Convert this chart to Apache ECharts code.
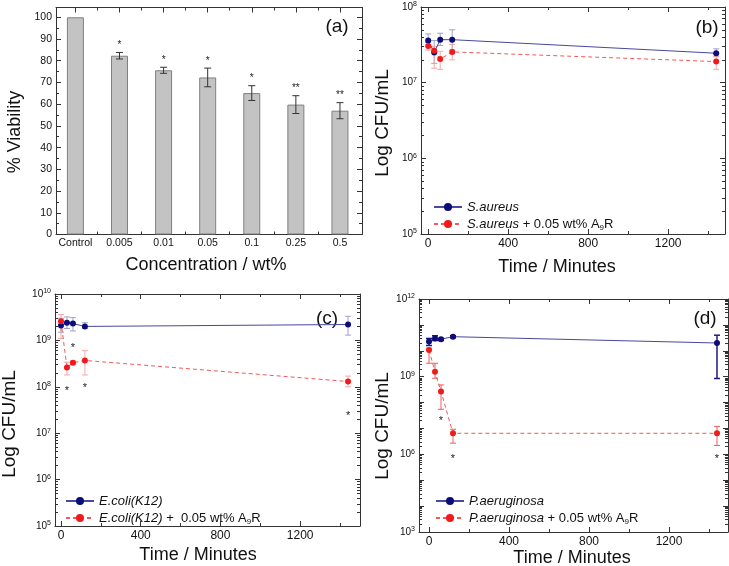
<!DOCTYPE html>
<html>
<head>
<meta charset="utf-8">
<script src="https://cdn.jsdelivr.net/npm/echarts@6/dist/echarts.min.js"></script>
<style>
  html, body { margin: 0; padding: 0; background: #fff; }
  #chart { width: 729px; height: 566px; }
</style>
</head>
<body>
<div id="chart"></div>
<script>
// (a) cell viability
const concLabels = ['Control', '0.005', '0.01', '0.05', '0.1', '0.25', '0.5'];
const viability = [100, 82.3, 75.6, 72.3, 65.1, 59.8, 57.0];
const viabilityErr = [0, 1.5, 1.4, 4.3, 3.4, 4.1, 3.7];
const viabilityStars = ['', '*', '*', '*', '*', '**', '**'];

// time points (minutes)
const times = [0, 30, 60, 120, 1440];

// (b) S. aureus
const saureus = [3.6e7, 2.5e7, 3.7e7, 3.7e7, 2.45e7];
const saureusLo = [3.0e7, 1.8e7, 3.1e7, 2.7e7, 2.2e7];
const saureusHi = [4.4e7, 3.6e7, 4.5e7, 5.0e7, 2.8e7];
const saureusA9R = [3.05e7, 2.65e7, 2.05e7, 2.55e7, 1.9e7];
const saureusA9RLo = [2.7e7, 1.55e7, 1.5e7, 2.0e7, 1.5e7];
const saureusA9RHi = [3.4e7, 3.0e7, 2.6e7, 3.2e7, 2.25e7];

// (c) E. coli (K12)
const ecoli = [2.1e9, 2.4e9, 2.3e9, 2.0e9, 2.2e9];
const ecoliLo = [1.5e9, 1.8e9, 1.6e9, 1.8e9, 1.3e9];
const ecoliHi = [3.0e9, 3.2e9, 3.1e9, 2.4e9, 3.3e9];
const ecoliA9R = [2.6e9, 2.6e8, 3.3e8, 3.7e8, 1.3e8];
const ecoliA9RLo = [1.1e9, 1.8e8, 3.0e8, 1.8e8, 1.0e8];
const ecoliA9RHi = [3.6e9, 3.4e8, 3.6e8, 6.0e8, 1.7e8];
const ecoliStars = [[30, 8e7], [60, 7e8], [120, 9.5e7], [1440, 2.4e7]];

// (d) P. aeruginosa
const paer = [2.3e10, 3.0e10, 2.8e10, 3.5e10, 2.0e10];
const paerLo = [1.6e10, 2.5e10, 2.5e10, 3.2e10, 8.5e8];
const paerHi = [3.0e10, 3.8e10, 3.0e10, 3.8e10, 4.0e10];
const paerA9R = [1.07e10, 1.55e9, 2.7e8, 6.5e6, 6.5e6];
const paerA9RLo = [3.3e9, 8.7e8, 5.5e7, 2.7e6, 2.2e6];
const paerA9RHi = [1.26e10, 3.3e9, 4.8e8, 9.3e6, 1.2e7];
const paerStars = [[60, 2e7], [120, 6.5e5], [1440, 6.5e5]];

const FONT = "'Liberation Sans', Arial, sans-serif";
const AX = '#333';
const TXT = '#111';
const BLUE = '#0c0c78', BLUE_LINE = '#4848a0';
const RED = '#f01a1a', RED_LINE = '#f05a5a';

const chart = echarts.init(document.getElementById('chart'));

const xAxis = [];
const yAxis = [];

// each side gets a major-tick axis and a minor-tick axis, mirrored on the opposite side
function addAxes(list, dim, grid, type, min, max, labels, majors, minors, label) {
  const first = list.length;
  const sides = dim === 'x' ? ['bottom', 'top'] : ['left', 'right'];
  sides.forEach((pos, si) => {
    [majors, minors].forEach((vals, mi) => {
      list.push({
        gridIndex: grid,
        type: type,
        logBase: 10,
        min: min,
        max: max,
        position: pos,
        splitLine: { show: false },
        axisLine: { show: mi === 0, onZero: false, lineStyle: { color: AX, width: 1 } },
        axisTick: {
          show: true, inside: true, length: mi === 0 ? 5 : 3,
          customValues: vals, lineStyle: { color: AX, width: 1 }
        },
        axisLabel: si === 0 && mi === 0
          ? Object.assign({ customValues: labels, color: TXT, fontFamily: FONT }, label)
          : { show: false }
      });
    });
  });
  return first;
}

function decades(lo, hi) {
  const out = [];
  for (let d = lo; d <= hi; d++) out.push(Math.pow(10, d));
  return out;
}
function logMinors(lo, hi) {
  const out = [];
  for (let d = lo; d < hi; d++) {
    for (let k = 2; k <= 9; k++) out.push(k * Math.pow(10, d));
  }
  return out;
}

const supLabel = {
  fontSize: 10, margin: 4, lineHeight: 12,
  formatter: v => '10{sup|' + Math.round(Math.log10(v)) + '}',
  rich: { sup: { fontSize: 7, lineHeight: 7, verticalAlign: 'top', fontFamily: FONT, color: TXT } }
};
const timeLabel = { fontSize: 12, margin: 4, formatter: v => String(Math.round(v)) };
const timeMajors = [0, 400, 800, 1200];
const timeMinors = [200, 600, 1000, 1400];

// (a)
const ax0 = addAxes(xAxis, 'x', 0, 'value', -0.44, 6.5, [0, 1, 2, 3, 4, 5, 6],
  [0, 1, 2, 3, 4, 5, 6], [0.5, 1.5, 2.5, 3.5, 4.5, 5.5],
  { fontSize: 10.5, margin: 3, formatter: v => concLabels[Math.round(v)] });
const ay0 = addAxes(yAxis, 'y', 0, 'value', 0, 104.5,
  [0, 10, 20, 30, 40, 50, 60, 70, 80, 90, 100],
  [0, 10, 20, 30, 40, 50, 60, 70, 80, 90, 100],
  [5, 15, 25, 35, 45, 55, 65, 75, 85, 95],
  { fontSize: 10.5, margin: 4 });

// (b)
const ax1 = addAxes(xAxis, 'x', 1, 'value', -36, 1484, timeMajors, timeMajors, timeMinors, timeLabel);
const ay1 = addAxes(yAxis, 'y', 1, 'log', 1e5, 1e8, decades(5, 8), decades(5, 8), logMinors(5, 8), supLabel);

// (c)
const ax2 = addAxes(xAxis, 'x', 2, 'value', -30, 1500, timeMajors, timeMajors, timeMinors, timeLabel);
const ay2 = addAxes(yAxis, 'y', 2, 'log', 1e5, 1e10, decades(5, 10), decades(5, 10), logMinors(5, 10), supLabel);

// (d)
const ax3 = addAxes(xAxis, 'x', 3, 'value', -50, 1495, timeMajors, timeMajors, timeMinors, timeLabel);
const ay3 = addAxes(yAxis, 'y', 3, 'log', 1e3, 1e12, [1e3, 1e6, 1e9, 1e12], decades(3, 12), logMinors(3, 12), supLabel);

function errorBars(color, width, cap) {
  return function (params, api) {
    const top = api.coord([api.value(0), api.value(2)]);
    const bot = api.coord([api.value(0), api.value(1)]);
    const st = { stroke: color, lineWidth: width };
    return {
      type: 'group',
      children: [
        { type: 'line', shape: { x1: top[0], y1: top[1], x2: bot[0], y2: bot[1] }, style: st },
        { type: 'line', shape: { x1: top[0] - cap, y1: top[1], x2: top[0] + cap, y2: top[1] }, style: st },
        { type: 'line', shape: { x1: bot[0] - cap, y1: bot[1], x2: bot[0] + cap, y2: bot[1] }, style: st }
      ]
    };
  };
}

function starItem(params, api) {
  const p = api.coord([api.value(0), api.value(1)]);
  return {
    type: 'text',
    x: p[0], y: p[1],
    style: {
      text: '*', font: '11px ' + FONT, fill: '#222',
      align: 'center', verticalAlign: 'middle', textAlign: 'center', textVerticalAlign: 'middle'
    }
  };
}

function pairs(vals) {
  return times.map((t, i) => [t, vals[i]]);
}
function errRows(lo, hi) {
  return times.map((t, i) => [t, lo[i], hi[i]]);
}

function lineSeries(name, xi, yi, vals, color, lineColor, dashed) {
  return {
    type: 'line', name: name, xAxisIndex: xi, yAxisIndex: yi,
    data: pairs(vals),
    symbol: 'circle', symbolSize: 6,
    itemStyle: { color: color },
    lineStyle: { color: lineColor, width: 1, type: dashed ? [4, 3] : 'solid' },
    z: 4
  };
}
function errSeries(xi, yi, lo, hi, color, width) {
  return {
    type: 'custom', xAxisIndex: xi, yAxisIndex: yi,
    renderItem: errorBars(color, width || 1, 3),
    encode: { x: 0, y: [1, 2] },
    data: errRows(lo, hi),
    z: 2
  };
}
function starSeries(xi, yi, pts) {
  return {
    type: 'custom', xAxisIndex: xi, yAxisIndex: yi,
    renderItem: starItem, encode: { x: 0, y: 1 }, data: pts, z: 3
  };
}

const aErr = [];
concLabels.forEach((c, i) => {
  if (viabilityErr[i] > 0) aErr.push([i, viability[i] - viabilityErr[i], viability[i] + viabilityErr[i]]);
});

const series = [
  {
    type: 'bar', xAxisIndex: ax0, yAxisIndex: ay0,
    data: concLabels.map((c, i) => [i, viability[i]]),
    barWidth: 17,
    itemStyle: { color: '#c3c3c3', borderColor: '#808080', borderWidth: 1 },
    z: 2
  },
  {
    type: 'custom', xAxisIndex: ax0, yAxisIndex: ay0,
    encode: { x: 0, y: [1, 2] },
    data: aErr,
    renderItem: function (params, api) {
      const g = errorBars('#333', 1, 3.5)(params, api);
      const top = api.coord([api.value(0), api.value(2)]);
      g.children.push({
        type: 'text', x: top[0], y: top[1] - 7,
        style: {
          text: viabilityStars[api.value(0)], font: '10px ' + FONT, fill: '#222',
          align: 'center', verticalAlign: 'middle', textAlign: 'center', textVerticalAlign: 'middle'
        }
      });
      return g;
    },
    z: 3
  },

  errSeries(ax1, ay1, saureusLo, saureusHi, '#a0a0c8'),
  errSeries(ax1, ay1, saureusA9RLo, saureusA9RHi, '#f2a8a8'),
  lineSeries('S.aureus', ax1, ay1, saureus, BLUE, BLUE_LINE, false),
  lineSeries('S.aureus + A9R', ax1, ay1, saureusA9R, RED, RED_LINE, true),

  errSeries(ax2, ay2, ecoliLo, ecoliHi, '#a0a0c8'),
  errSeries(ax2, ay2, ecoliA9RLo, ecoliA9RHi, '#f2a8a8'),
  lineSeries('E.coli(K12)', ax2, ay2, ecoli, BLUE, BLUE_LINE, false),
  lineSeries('E.coli(K12) + A9R', ax2, ay2, ecoliA9R, RED, RED_LINE, true),
  starSeries(ax2, ay2, ecoliStars),

  errSeries(ax3, ay3, paerLo, paerHi, '#1a1a80', 1.5),
  errSeries(ax3, ay3, paerA9RLo, paerA9RHi, '#e86060'),
  lineSeries('P.aeruginosa', ax3, ay3, paer, BLUE, BLUE_LINE, false),
  lineSeries('P.aeruginosa + A9R', ax3, ay3, paerA9R, RED, RED_LINE, true),
  starSeries(ax3, ay3, paerStars)
];

const legendNames = {
  'S.aureus': '{i|S.aureus}',
  'S.aureus + A9R': '{i|S.aureus} + 0.05 wt% A{s|9}R',
  'E.coli(K12)': '{i|E.coli(K12)}',
  'E.coli(K12) + A9R': '{i|E.coli(K12)} +  0.05 wt% A{s|9}R',
  'P.aeruginosa': '{i|P.aeruginosa}',
  'P.aeruginosa + A9R': '{i|P.aeruginosa} + 0.05 wt% A{s|9}R'
};
const legendText = {
  fontFamily: FONT, fontSize: 13, color: TXT, lineHeight: 16,
  rich: {
    i: { fontStyle: 'italic', fontFamily: FONT, fontSize: 13, color: TXT, lineHeight: 16 },
    s: { fontFamily: FONT, fontSize: 8, color: TXT, lineHeight: 8, verticalAlign: 'bottom' }
  }
};
function legendAt(left, top, names) {
  return {
    data: names, left: left, top: top, orient: 'vertical',
    itemWidth: 28, itemHeight: 10, itemGap: 1,
    textStyle: legendText,
    formatter: n => legendNames[n],
    selectedMode: false
  };
}

function label(text, x, y, size, rot) {
  return {
    type: 'text', x: x, y: y, rotation: rot || 0,
    style: {
      text: text, font: size + 'px ' + FONT, fill: TXT,
      align: 'center', verticalAlign: 'middle', textAlign: 'center', textVerticalAlign: 'middle'
    }
  };
}

chart.setOption({
  animation: false,
  backgroundColor: '#fff',
  grid: [
    { left: 56, top: 7.5, width: 306, height: 227 },
    { left: 421, top: 7, width: 304, height: 227 },
    { left: 55, top: 294, width: 305, height: 232 },
    { left: 419, top: 299, width: 309, height: 233 }
  ],
  xAxis: xAxis,
  yAxis: yAxis,
  legend: [
    legendAt(428, 194, ['S.aureus', 'S.aureus + A9R']),
    legendAt(60, 488, ['E.coli(K12)', 'E.coli(K12) + A9R']),
    legendAt(430, 488, ['P.aeruginosa', 'P.aeruginosa + A9R'])
  ],
  graphic: [
    label('% Viability', 15, 132, 18, Math.PI / 2),
    label('Concentration / wt%', 206, 265, 18),
    label('Log CFU/mL', 383, 123, 19, Math.PI / 2),
    label('Time / Minutes', 557, 267, 18),
    label('Log CFU/mL', 10, 424, 19, Math.PI / 2),
    label('Time / Minutes', 198, 555, 18),
    label('Log CFU/mL', 383, 426, 19, Math.PI / 2),
    label('Time / Minutes', 572, 558, 18),
    label('(a)', 337, 27, 19),
    label('(b)', 707, 28, 19),
    label('(c)', 327, 319, 19),
    label('(d)', 705, 319, 19)
  ],
  series: series
});
</script>
</body>
</html>
